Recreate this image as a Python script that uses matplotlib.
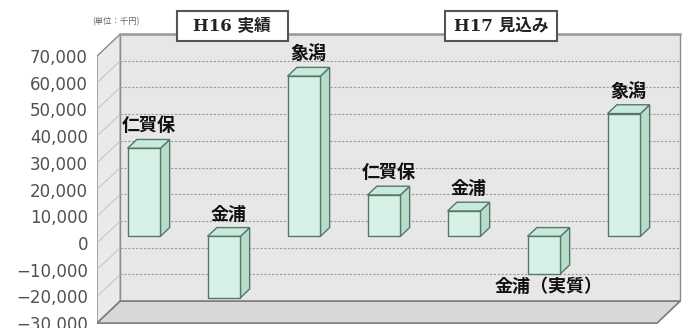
import matplotlib
matplotlib.use('Agg')
import matplotlib.pyplot as plt
from matplotlib.patches import Polygon, Rectangle

# data
categories = ['仁賀保', '金浦', '象潟', '仁賀保', '金浦', '金浦（実質）', '象潟']
values = [33000, -23000, 60000, 15500, 9500, -14000, 46000]
groups = ['H16 実績', 'H17 見込み']
group_pos = [1.69, 5.05]
yticks = list(range(-30000, 70001, 10000))
unit_label = '(単位：千円)'

# fake 3d geometry (category units / value units)
DU = 0.29      # horizontal shift of the back wall
DV = 8240      # vertical shift of the back wall
d0, d1 = 0.3, 0.7   # bar front / back depth
bw = 0.41
ymin, ymax = yticks[0], yticks[-1]
n = len(categories)

jp = ['Noto Sans CJK JP', 'DejaVu Sans']

def sh(u, v, d):
    return (u + d * DU, v + d * DV)

fig = plt.figure(figsize=(6.85, 3.28), dpi=100)
ax = fig.add_axes([97 / 685, 0, 588 / 685, 1])
ax.set_xlim(0, 7.35)
ax.set_ylim(-31835, 91011)
for s in ax.spines.values():
    s.set_visible(False)
ax.set_xticks([])
ax.set_yticks(yticks)
ax.set_yticklabels([f'{t:,}'.replace('-', '\u2212') for t in yticks])
ax.tick_params(axis='y', length=0, pad=6.5, labelsize=12, labelcolor='#505050')

# back wall
ax.add_patch(Polygon([sh(0, ymin, 1), sh(n, ymin, 1), sh(n, ymax, 1), sh(0, ymax, 1)],
                     closed=True, facecolor='#e7e7e7', edgecolor='#8a8a8a', lw=1.0, zorder=1))
# side wall
ax.add_patch(Polygon([(0, ymin), sh(0, ymin, 1), sh(0, ymax, 1), (0, ymax)],
                     closed=True, facecolor='#eaeaea', edgecolor='#8a8a8a', lw=1.0, zorder=1))
# floor
ax.add_patch(Polygon([(0, ymin), (n, ymin), sh(n, ymin, 1), sh(0, ymin, 1)],
                     closed=True, facecolor='#d8d8d8', edgecolor='#7a7a7a', lw=1.2, zorder=2))

# gridlines
for t in yticks[1:-1]:
    x0, y0 = sh(0, t, 1)
    x1, y1 = sh(n, t, 1)
    ax.plot([x0, x1], [y0, y1], color='#9a9a9a', lw=0.8, ls=(0, (2, 1.5)), zorder=1.5)
for t in yticks[:-1]:
    x1, y1 = sh(0, t, 1)
    ax.plot([0, x1], [t, y1], color='#bbbbbb', lw=0.6, zorder=1.5)
x0, y0 = sh(0, ymax, 1)
x1, y1 = sh(n, ymax, 1)
ax.plot([x0, x1], [y0, y1], color='#9a9a9a', lw=1.8, zorder=1.6)

# bars
edge = '#56766a'
for i, (lab, val) in enumerate(zip(categories, values)):
    c = i + 0.5
    l, r = c - bw / 2, c + bw / 2
    lo, hi = min(0, val), max(0, val)
    side = [sh(r, lo, d0), sh(r, lo, d1), sh(r, hi, d1), sh(r, hi, d0)]
    top = [sh(l, hi, d0), sh(r, hi, d0), sh(r, hi, d1), sh(l, hi, d1)]
    front = [sh(l, lo, d0), sh(r, lo, d0), sh(r, hi, d0), sh(l, hi, d0)]
    ax.add_patch(Polygon(side, closed=True, fc='#b4ddca', ec=edge, lw=1.0, zorder=3))
    ax.add_patch(Polygon(top, closed=True, fc='#c8eadb', ec=edge, lw=1.0, zorder=3))
    ax.add_patch(Polygon(front, closed=True, fc='#d8f1e6', ec=edge, lw=1.0, zorder=3))

    xc = c + (d0 + d1) / 2 * DU
    if lab == '金浦（実質）':
        ax.text(xc, lo + d0 * DV - 1200, lab, ha='center', va='top', fontsize=13,
                fontweight='bold', family=jp, color='#111111', zorder=4)
    else:
        ax.text(xc, hi + d1 * DV + 1500, lab, ha='center', va='bottom', fontsize=13,
                fontweight='bold', family=jp, color='#111111', zorder=4)

# group headers
for g, gx in zip(groups, group_pos):
    ax.add_patch(Rectangle((gx - 0.695, 81273 - 5600), 1.39, 11200, fc='white',
                           ec='#555555', lw=1.5, zorder=5, clip_on=False))
    ax.text(gx, 81273, g, ha='center', va='center', fontsize=12, fontweight='bold',
            family=['DejaVu Serif', 'Noto Sans CJK JP'], color='#222222', zorder=6)

ax.text(-0.06, 82800, unit_label, ha='left', va='center', fontsize=6,
        family=jp, color='#666666')

fig.savefig('out.png', dpi=100)
